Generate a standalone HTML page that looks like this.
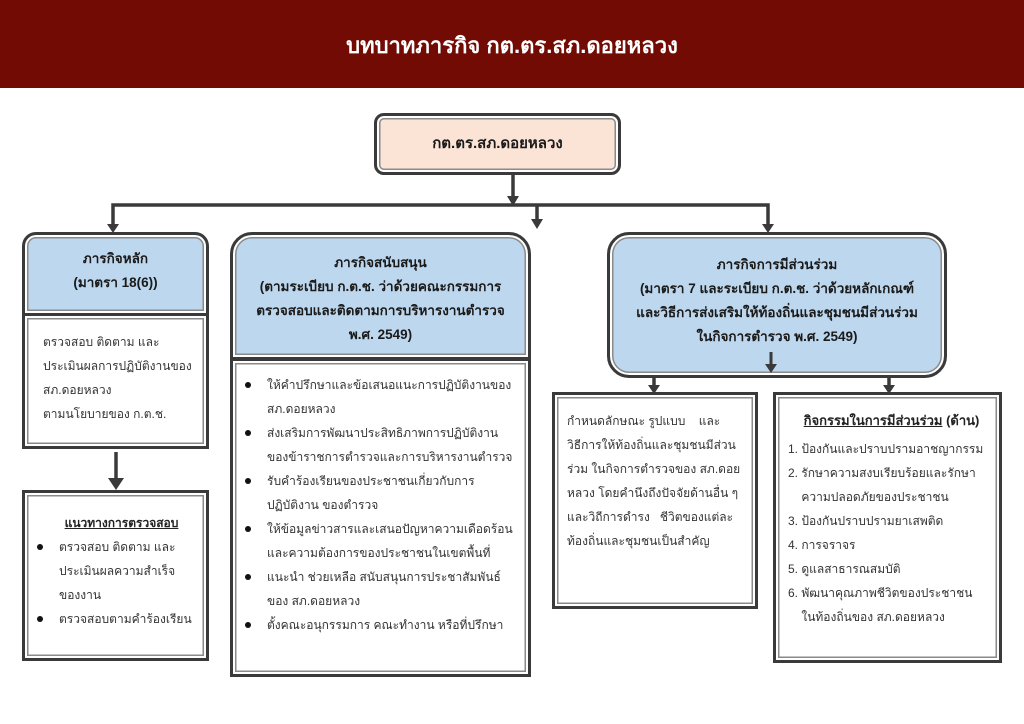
<!DOCTYPE html>
<html><head><meta charset="utf-8"><style>
*{margin:0;padding:0;box-sizing:border-box}
body{width:1024px;height:724px;background:#fff;position:relative;overflow:hidden;font-family:"Liberation Sans","DejaVu Sans",sans-serif;color:#222}
.hdr{position:absolute;left:0;top:0;width:1024px;height:88px;background:#730b05;color:#fff;font-size:22px;font-weight:bold;text-align:center;line-height:92px}
.b{position:absolute;border:3px solid #3a3a3a;box-shadow:inset 0 0 0 2px #fff,inset 0 0 0 3.5px #8a8a8a;background:#fff}
.blue{background:#bdd7ee}
.c{text-align:center;font-size:13.5px;font-weight:bold;line-height:24px;color:#1a1a1a;white-space:nowrap}
.t{font-size:12px;line-height:24px;color:#333;white-space:nowrap}
ul{list-style:none}
li{position:relative;padding-left:26px}
li:before{content:"";position:absolute;left:4px;top:9px;width:6px;height:6px;border-radius:50%;background:#111}
</style></head><body>
<div class="hdr">บทบาทภารกิจ กต.ตร.สภ.ดอยหลวง</div>

<div class="b c" style="left:374px;top:113px;width:247px;height:62px;background:#fbe3d6;border-radius:10px;line-height:56px;font-size:15px">กต.ตร.สภ.ดอยหลวง</div>

<svg style="position:absolute;left:0;top:0" width="1024" height="724">
<g stroke="#3a3a3a" stroke-width="3.5" fill="none">
<path d="M513 175V198"/>
<path d="M113 228V205H768V228"/>
<path d="M537 205V222"/>
<path d="M116 452V482"/>
<path d="M654 378V388"/><path d="M889 378V388"/>
</g>
<g fill="#3a3a3a">
<path d="M507 196h12l-6 10z"/>
<path d="M107 224h12l-6 9z"/>
<path d="M762 224h12l-6 9z"/>
<path d="M531 219h12l-6 10z"/>
<path d="M108 478h16l-8 12z"/>
<path d="M648 385h12l-6 9z"/>
<path d="M883 385h12l-6 9z"/>
</g>
</svg>

<div class="b blue c" style="left:22px;top:232px;width:187px;height:84px;border-radius:14px 14px 0 0;padding-top:12px">ภารกิจหลัก<br>(มาตรา 18(6))</div>
<div class="b t" style="left:22px;top:313px;width:187px;height:136px;padding:14px 0 0 18px">ตรวจสอบ ติดตาม และ<br>ประเมินผลการปฏิบัติงานของ<br>สภ.ดอยหลวง<br>ตามนโยบายของ ก.ต.ช.</div>
<div class="b t" style="left:22px;top:490px;width:187px;height:171px;padding:18px 6px 0 8px">
<div style="text-align:center;font-weight:bold;text-decoration:underline;color:#222;padding-left:10px">แนวทางการตรวจสอบ</div>
<ul><li>ตรวจสอบ ติดตาม และ<br>ประเมินผลความสำเร็จ<br>ของงาน</li><li>ตรวจสอบตามคำร้องเรียน</li></ul></div>

<div class="b blue c" style="left:230px;top:232px;width:301px;height:128px;border-radius:22px 22px 0 0;padding-top:16px">ภารกิจสนับสนุน<br>(ตามระเบียบ ก.ต.ช. ว่าด้วยคณะกรรมการ<br>ตรวจสอบและติดตามการบริหารงานตำรวจ<br>พ.ศ. 2549)</div>
<div class="b t" style="left:230px;top:358px;width:301px;height:319px;padding:12px 6px 0 8px">
<ul><li>ให้คำปรึกษาและข้อเสนอแนะการปฏิบัติงานของ<br>สภ.ดอยหลวง</li>
<li>ส่งเสริมการพัฒนาประสิทธิภาพการปฏิบัติงาน<br>ของข้าราชการตำรวจและการบริหารงานตำรวจ</li>
<li>รับคำร้องเรียนของประชาชนเกี่ยวกับการ<br>ปฏิบัติงาน ของตำรวจ</li>
<li>ให้ข้อมูลข่าวสารและเสนอปัญหาความเดือดร้อน<br>และความต้องการของประชาชนในเขตพื้นที่</li>
<li>แนะนำ ช่วยเหลือ สนับสนุนการประชาสัมพันธ์<br>ของ สภ.ดอยหลวง</li>
<li>ตั้งคณะอนุกรรมการ คณะทำงาน หรือที่ปรึกษา</li></ul></div>

<div class="b blue c" style="left:607px;top:232px;width:340px;height:146px;border-radius:22px;padding-top:18px">ภารกิจการมีส่วนร่วม<br>(มาตรา 7 และระเบียบ ก.ต.ช. ว่าด้วยหลักเกณฑ์<br>และวิธีการส่งเสริมให้ท้องถิ่นและชุมชนมีส่วนร่วม<br>ในกิจการตำรวจ พ.ศ. 2549)</div>
<svg style="position:absolute;left:763px;top:352px" width="16" height="24"><path d="M8 0V14" stroke="#3a3a3a" stroke-width="3"/><path d="M2 12h12l-6 9z" fill="#3a3a3a"/></svg>

<div class="b t" style="left:552px;top:392px;width:206px;height:217px;padding:14px 8px 0 12px">กำหนดลักษณะ รูปแบบ&nbsp;&nbsp;&nbsp;&nbsp;และ<br>วิธีการให้ท้องถิ่นและชุมชนมีส่วน<br>ร่วม ในกิจการตำรวจของ สภ.ดอย<br>หลวง โดยคำนึงถึงปัจจัยด้านอื่น ๆ<br>และวิถีการดำรง&nbsp;&nbsp;&nbsp;ชีวิตของแต่ละ<br>ท้องถิ่นและชุมชนเป็นสำคัญ</div>

<div class="b t" style="left:773px;top:392px;width:229px;height:271px;padding:14px 4px 0 12px">
<div style="font-weight:bold;font-size:13px;color:#222;text-align:center;margin-bottom:4px"><u>กิจกรรมในการมีส่วนร่วม</u> (ด้าน)</div>
1. ป้องกันและปราบปรามอาชญากรรม<br>2. รักษาความสงบเรียบร้อยและรักษา<br>&nbsp;&nbsp;&nbsp;&nbsp;ความปลอดภัยของประชาชน<br>3. ป้องกันปราบปรามยาเสพติด<br>4. การจราจร<br>5. ดูแลสาธารณสมบัติ<br>6. พัฒนาคุณภาพชีวิตของประชาชน<br>&nbsp;&nbsp;&nbsp;&nbsp;ในท้องถิ่นของ สภ.ดอยหลวง</div>
</body></html>
